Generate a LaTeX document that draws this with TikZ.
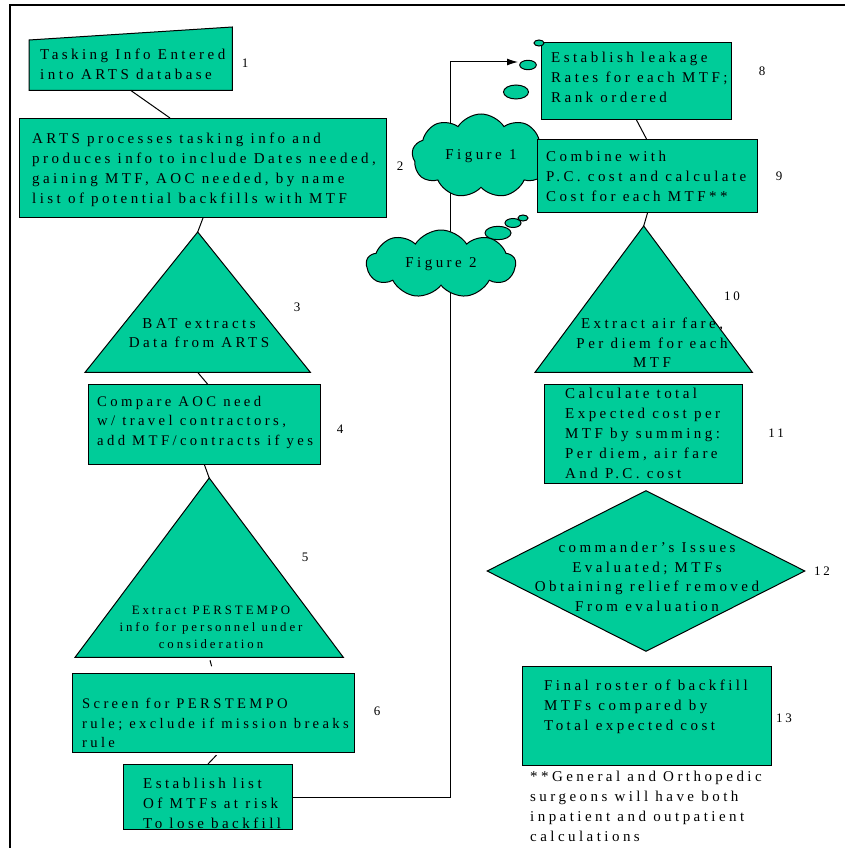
\documentclass[tikz,border=0pt]{standalone}
\usepackage{fontspec}
\setmainfont{Liberation Serif}[LetterSpace=23]
\usetikzlibrary{shapes.geometric,shapes.symbols,arrows.meta}
\definecolor{boxgreen}{RGB}{0,204,153}
\begin{document}
\begin{tikzpicture}[x=1pt,y=-1pt,
  every node/.style={inner sep=0pt},
  holder/.style n args={2}{anchor=north west,minimum width=#1,minimum height=#2},
  box/.style n args={2}{holder={#1}{#2},draw,fill=boxgreen,line width=1pt},
  shapefill/.style={draw,fill=boxgreen,line width=1pt},
  txt/.style={align=left,font=\fontsize{15}{20}\selectfont},
  ctxt/.style={align=center,font=\fontsize{15}{19.5}\selectfont},
  num/.style={font=\fontsize{13}{13}\selectfont},
  link/.style={draw,line width=1pt},
  bubble/.style={cloud,cloud puffs=9,cloud puff arc=115,cloud ignores aspect,shapefill,font=\fontsize{15}{18}\selectfont},
  >={Latex[length=11pt,width=7pt]}]
\useasboundingbox (0,0) rectangle (845,848);
\draw[line width=2pt] (845,5) -- (10,5) -- (10,848); % page frame
% left column
\node[holder={203pt}{63pt}] (b1) at (29,27) {};
\filldraw[shapefill] (b1.south west) -- ([yshift=-13pt]b1.north west) -- (b1.north east) -- (b1.south east) -- cycle;
\node[txt,anchor=west] (l1) at (40,64) {Tasking Info Entered\\into ARTS database};
\node[box={367pt}{99pt}] (b2) at (19,118) {};
\node[txt,anchor=west] (l2) at (32,170) {ARTS processes tasking info and\\produces info to include Dates needed,\\gaining MTF, AOC needed, by name\\list of potential backfills with MTF};
\node[holder={225pt}{140pt}] (b3) at (85,232) {};
\filldraw[shapefill] (b3.south west) -- (b3.north) -- (b3.south east) -- cycle;
\node[ctxt] (l3) at (199,333) {BAT extracts\\Data from ARTS};
\node[box={232pt}{80pt}] (b4) at (88,384) {};
\node[txt,anchor=west,font=\fontsize{14.7}{19.5}\selectfont] (l4) at (97,422) {Compare AOC need\\w/ travel contractors,\\add MTF/contracts if yes};
\node[holder={268pt}{179pt}] (b5) at (75,478) {};
\filldraw[shapefill] (b5.south west) -- (b5.north) -- (b5.south east) -- cycle;
\node[align=center,font=\fontsize{12.8}{17}\selectfont] (l5) at (211,627) {Extract PERSTEMPO\\info for personnel under\\consideration};
\node[box={282pt}{79pt}] (b6) at (72,673) {};
\node[txt,anchor=west,font=\fontsize{14.6}{19.5}\selectfont] (l6) at (82,723) {Screen for PERSTEMPO\\rule; exclude if mission breaks\\rule};
\node[box={169pt}{65pt}] (b7) at (123,764) {};
\node[txt,anchor=west] (l7) at (143,803) {Establish list\\Of MTFs at risk\\To lose backfill};
\draw[link] (b1.south) -- ([xshift=-33pt]b2.north);
\draw[link] (b2.south) -- (b3.north);
\draw[link] (b3.south) -- ([xshift=3pt]b4.north);
\draw[link] (b4.south) -- (b5.north);
\draw[link,shorten <=3pt,shorten >=7pt] (b5.south) -- (b6.north);
\draw[link,shorten <=3pt] ([xshift=5pt]b6.south) -- (b7.north);
% link over to the right column
\coordinate (tip) at (518,62);
\draw[link,->] (b7.east) -| (450,62) -- (tip);
\node[bubble,minimum width=138pt,minimum height=84pt] (fig1) at (481,156) {Figure 1};
\node[bubble,minimum width=149pt,minimum height=68pt] (fig2) at (441,264) {Figure 2};
% right column
\node[box={190pt}{77pt}] (b8) at (541,42) {};
\node[txt,anchor=west] (l8) at (551,77.5) {Establish leakage\\Rates for each MTF;\\Rank ordered};
\foreach \x/\y/\rx/\ry in {516/92/12.5/7,528/65/8.3/4.7,539/43/5/3,498/233/13/6.7,513/223/8/4.5,523/218/5/3} % bubble tails
  \filldraw[shapefill] (\x,\y) ellipse [x radius=\rx pt,y radius=\ry pt];
\node[box={220pt}{73pt}] (b9) at (537,139) {};
\node[txt,anchor=west] (l9) at (546,176) {Combine with\\P.C. cost and calculate\\Cost for each MTF**};
\node[holder={217pt}{146pt}] (b10) at (535,226) {};
\filldraw[shapefill] (b10.south west) -- (b10.north) -- (b10.south east) -- cycle;
\node[ctxt] (l10) at (652,343) {Extract air fare,\\Per diem for each\\MTF};
\node[box={198pt}{99pt}] (b11) at (544,384) {};
\node[txt,anchor=west] (l11) at (565,433) {Calculate total\\Expected cost per\\MTF by summing:\\Per diem, air fare\\And P.C. cost};
\node[diamond,shapefill,minimum width=318pt,minimum height=161pt] (b12) at (646,571) {};
\node[ctxt] (l12) at (647,577) {commander's Issues\\Evaluated; MTFs\\Obtaining relief removed\\From evaluation};
\node[box={249pt}{99pt}] (b13) at (522,666) {};
\node[txt,anchor=west] (l13) at (544,707) {Final roster of backfill\\MTFs compared by\\Total expected cost};
\node[txt,anchor=west] (note) at (530,806) {**General and Orthopedic\\surgeons will have both\\inpatient and outpatient\\calculations};
\draw[link] (b8.south) -- ([xshift=-1pt]b9.north);
\draw[link] (b9.south) -- (b10.north);
% step numbers
\foreach \n/\x/\y in {1/245/63,2/400/166,3/297/307,4/340/429,5/305/557,6/377/711,8/762/71,9/779/176,10/732/296,11/776/433,12/822/571,13/784/718}
  \node[num] (n\n) at (\x,\y) {\n};
\end{tikzpicture}
\end{document}
